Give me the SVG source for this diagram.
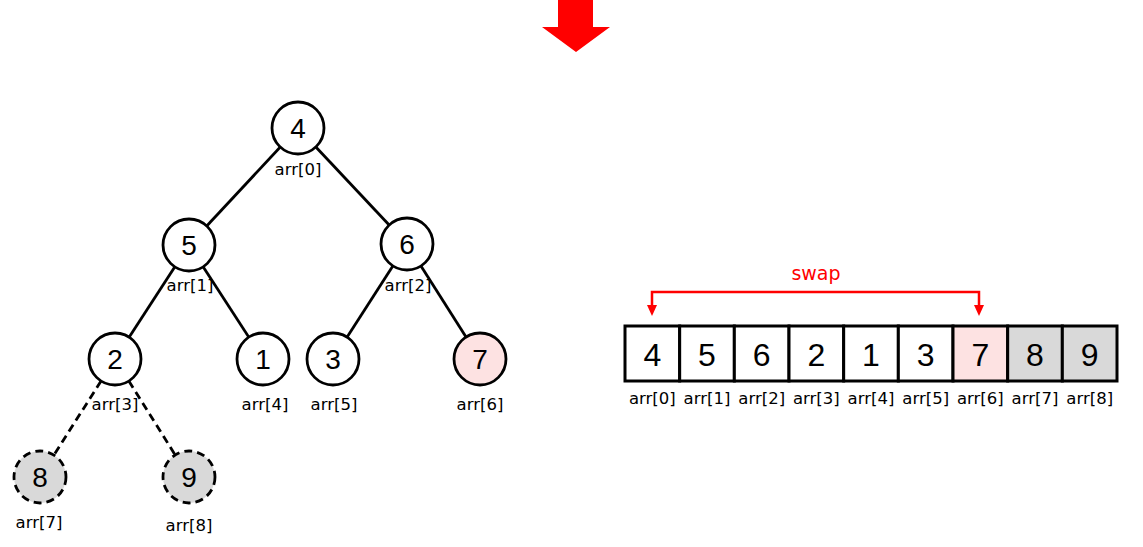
<svg xmlns="http://www.w3.org/2000/svg" width="1143" height="547" viewBox="0 0 1143 547">
<style>
.edge{stroke:#000;stroke-width:2.8;fill:none}
.dash{stroke-dasharray:8,5}
.node circle{stroke:#000;stroke-width:2.8;fill:#fff}
.node circle.pink{fill:#fde2e2}
.node circle.gray{fill:#d9d9d9;stroke-dasharray:8,5}
.num{font-family:"Liberation Sans",Arial,sans-serif;font-size:28px;text-anchor:middle;fill:#000}
.lbl{font-family:"DejaVu Sans",sans-serif;font-size:16.5px;text-anchor:middle;fill:#000}
.cell{stroke:#000;stroke-width:3;fill:#fff}
.cell.pink{fill:#fde2e2}
.cell.gray{fill:#d9d9d9}
.anum{font-family:"Liberation Sans",Arial,sans-serif;font-size:32px;text-anchor:middle;fill:#000}
.head{fill:#ff0000}
</style>
<polygon id="bigArrow" points="558,0 593,0 593,27 610,27 576,52 542,27 558,27" fill="#ff0000"/>
<g id="connectors">
<line class="edge" x1="298" y1="128" x2="189" y2="245"/>
<line class="edge" x1="298" y1="128" x2="407" y2="244"/>
<line class="edge" x1="189" y1="245" x2="115" y2="359"/>
<line class="edge" x1="189" y1="245" x2="263" y2="359"/>
<line class="edge" x1="407" y1="244" x2="333" y2="359"/>
<line class="edge" x1="407" y1="244" x2="480" y2="359"/>
<line class="edge dash" x1="115" y1="359" x2="40" y2="477"/>
<line class="edge dash" x1="115" y1="359" x2="189" y2="477"/>
</g>
<g id="node0" class="node"><circle cx="298" cy="128" r="26"/><text class="num" x="298" y="138">4</text><text class="lbl" x="298" y="175">arr[0]</text></g>
<g id="node1" class="node"><circle cx="189" cy="245" r="26"/><text class="num" x="189" y="255">5</text><text class="lbl" x="190" y="291">arr[1]</text></g>
<g id="node2" class="node"><circle cx="407" cy="244" r="26"/><text class="num" x="407" y="254">6</text><text class="lbl" x="408" y="291">arr[2]</text></g>
<g id="node3" class="node"><circle cx="115" cy="359" r="26"/><text class="num" x="115" y="369">2</text><text class="lbl" x="115" y="410">arr[3]</text></g>
<g id="node4" class="node"><circle cx="263" cy="359" r="26"/><text class="num" x="263" y="369">1</text><text class="lbl" x="265" y="410">arr[4]</text></g>
<g id="node5" class="node"><circle cx="333" cy="359" r="26"/><text class="num" x="333" y="369">3</text><text class="lbl" x="334" y="410">arr[5]</text></g>
<g id="node6" class="node"><circle class="pink" cx="480" cy="359" r="26"/><text class="num" x="480" y="369">7</text><text class="lbl" x="480" y="410">arr[6]</text></g>
<g id="node7" class="node"><circle class="gray" cx="40" cy="477" r="26"/><text class="num" x="40" y="487">8</text><text class="lbl" x="39" y="528">arr[7]</text></g>
<g id="node8" class="node"><circle class="gray" cx="189" cy="477" r="26"/><text class="num" x="189" y="487">9</text><text class="lbl" x="189" y="531">arr[8]</text></g>
<g id="array">
<rect class="cell" x="625" y="326" width="54.67" height="55"/>
<rect class="cell" x="679.67" y="326" width="54.67" height="55"/>
<rect class="cell" x="734.33" y="326" width="54.67" height="55"/>
<rect class="cell" x="789" y="326" width="54.67" height="55"/>
<rect class="cell" x="843.67" y="326" width="54.67" height="55"/>
<rect class="cell" x="898.33" y="326" width="54.67" height="55"/>
<rect class="cell pink" x="953" y="326" width="54.67" height="55"/>
<rect class="cell gray" x="1007.67" y="326" width="54.67" height="55"/>
<rect class="cell gray" x="1062.33" y="326" width="54.67" height="55"/>
<text class="anum" x="652.3" y="366">4</text>
<text class="anum" x="707" y="366">5</text>
<text class="anum" x="761.7" y="366">6</text>
<text class="anum" x="816.3" y="366">2</text>
<text class="anum" x="871" y="366">1</text>
<text class="anum" x="925.7" y="366">3</text>
<text class="anum" x="980.3" y="366">7</text>
<text class="anum" x="1035" y="366">8</text>
<text class="anum" x="1089.7" y="366">9</text>
<text class="lbl" x="652.3" y="404">arr[0]</text>
<text class="lbl" x="707" y="404">arr[1]</text>
<text class="lbl" x="761.7" y="404">arr[2]</text>
<text class="lbl" x="816.3" y="404">arr[3]</text>
<text class="lbl" x="871" y="404">arr[4]</text>
<text class="lbl" x="925.7" y="404">arr[5]</text>
<text class="lbl" x="980.3" y="404">arr[6]</text>
<text class="lbl" x="1035" y="404">arr[7]</text>
<text class="lbl" x="1089.7" y="404">arr[8]</text>
</g>
<g id="swap">
<path d="M652,307 L652,292 L979,292 L979,307" fill="none" stroke="#ff0000" stroke-width="2.5"/>
<polygon class="head" points="647,305 657,305 652,316"/>
<polygon class="head" points="974,305 984,305 979,316"/>
<text x="816" y="280" font-family="DejaVu Sans,sans-serif" font-size="19px" text-anchor="middle" fill="#ff0000">swap</text>
</g>
</svg>
